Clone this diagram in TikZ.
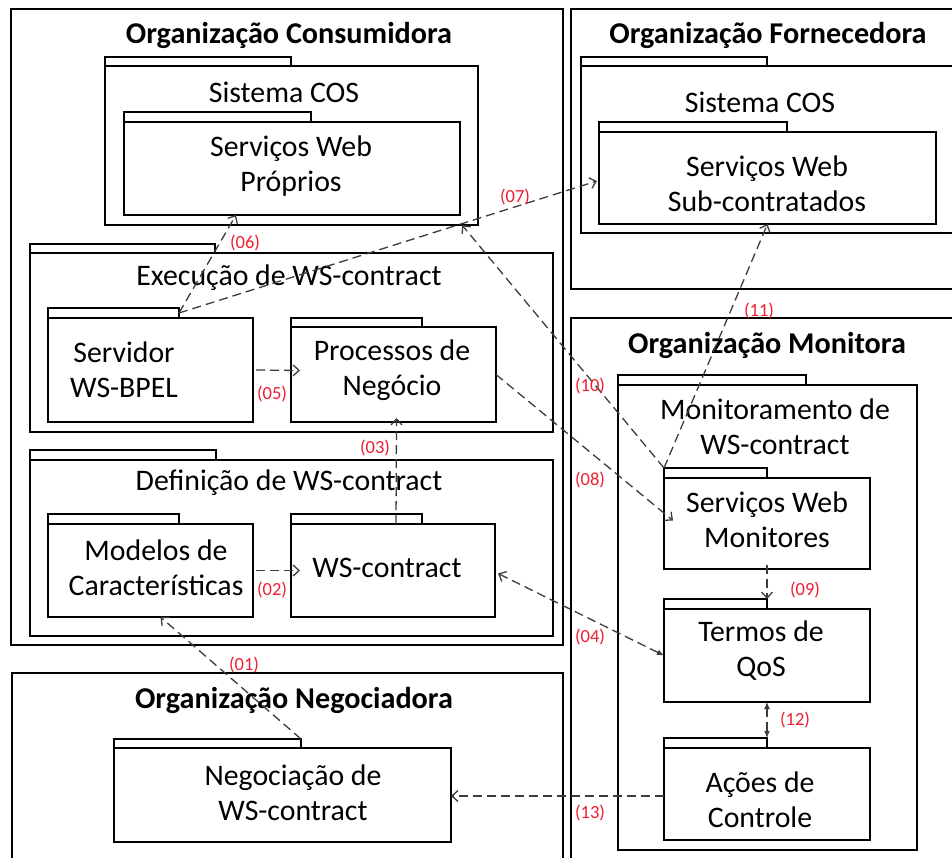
\documentclass[tikz,border=0pt]{standalone}
\usepackage{fontspec}
\setmainfont{Carlito}
\usetikzlibrary{arrows.meta}
\definecolor{lblred}{RGB}{240,30,50}
\definecolor{conngray}{RGB}{60,60,60}
\tikzset{
  box/.style={draw, line width=2.9pt, inner sep=0pt, outer sep=0pt},
  txt/.style={font=\fontsize{29.8}{35}\selectfont, align=center, inner sep=0pt},
  ttl/.style={font=\fontsize{30.2}{35}\bfseries\selectfont, inner sep=0pt},
  lbl/.style={font=\fontsize{18.5}{20}\selectfont, text=lblred, inner sep=0pt},
  conn/.style={draw=conngray, line width=1.3pt, dash pattern=on 9pt off 5pt},
  barb/.style={-{Straight Barb[length=6pt,width=11pt,line width=1.3pt]}},
}
% name, x1, tab right, tab top, body top, x2, bottom
\newcommand{\pkgbox}[7]{%
  \node[box, anchor=north west, minimum width={(#6-#2)*1pt}, minimum height={(#7-#5)*1pt}] (#1) at (#2,#5) {};
  \node[box, anchor=south west, minimum width={(#3-#2)*1pt}, minimum height={(#5-#4)*1pt}] (#1-tab) at (#2,#5) {};
}
\newcommand{\orgbox}[5]{%
  \node[box, anchor=north west, minimum width={(#4-#2)*1pt}, minimum height={(#5-#3)*1pt}] (#1) at (#2,#3) {};
}
\begin{document}
\begin{tikzpicture}[x=1pt, y=-1pt]
\clip (0,0) rectangle (952,858);
\fill[white] (0,0) rectangle (952,858);

% organisations
\orgbox{cons}{11}{9}{563}{645}
\orgbox{forn}{571}{9}{965}{289}
\orgbox{moni}{571}{318}{965}{875}
\orgbox{nego}{12}{673}{563}{875}
\node[ttl] (cons-t) at (289,35) {Organização Consumidora};
\node[ttl] (forn-t) at (768,35) {Organização Fornecedora};
\node[ttl] (moni-t) at (767,345) {Organização Monitora};
\node[ttl] (nego-t) at (294,700) {Organização Negociadora};

% packages
\pkgbox{sisc}{105}{291}{57}{66}{478}{225}
\pkgbox{swp}{124}{311}{112}{122}{460}{215}
\pkgbox{exec}{30}{215}{244}{253}{553}{432}
\pkgbox{srv}{48}{179}{308}{318}{253}{422}
\pkgbox{proc}{291}{422}{318}{327}{496}{422}
\pkgbox{def}{30}{216}{450}{460}{553}{636}
\pkgbox{mod}{48}{179}{514}{524}{253}{617}
\pkgbox{wsc}{291}{422}{514}{524}{495}{617}
\pkgbox{sisf}{581}{767}{57}{66}{965}{233}
\pkgbox{sws}{599}{787}{122}{132}{936}{224}
\pkgbox{mon}{618}{806}{375}{385}{917}{850}
\pkgbox{swm}{664}{767}{468}{478}{870}{569}
\pkgbox{termos}{664}{767}{599}{609}{870}{702}
\pkgbox{acoes}{664}{767}{738}{748}{870}{840}
\pkgbox{neg}{114}{301}{739}{748}{451}{842}

% package texts
\node[txt] (sisc-t) at (284,92) {Sistema COS};
\node[txt] (sisf-t) at (760,102) {Sistema COS};
\node[txt] (exec-t) at (289,278) {Execução de WS-contract};
\node[txt] (def-t) at (289,483) {Definição de WS-contract};
\node[txt] (mon-t) at (775,427) {Monitoramento de\\WS-contract};
\node[txt] (swp-t) at (291,166) {Serviços Web\\Próprios};
\node[txt] (srv-t) at (124,370) {Servidor\\WS-BPEL};
\node[txt] (proc-t) at (392,370) {Processos de\\Negócio};
\node[txt] (mod-t) at (156,568) {Modelos de\\Características};
\node[txt] (wsc-t) at (387,568) {WS-contract};
\node[txt] (sws-t) at (767,184) {Serviços Web\\Sub-contratados};
\node[txt] (swm-t) at (767,520) {Serviços Web\\Monitores};
\node[txt] (termos-t) at (761,651) {Termos de\\QoS};
\node[txt] (acoes-t) at (760,800) {Ações de\\Controle};
\node[txt] (neg-t) at (293,793) {Negociação de\\WS-contract};

% connectors
\draw[conn, barb] (neg-tab.north east) -- ([xshift=10pt]mod.south);
\draw[conn, barb] ([xshift=3pt]mod.east) -- ([xshift=9pt]wsc.west);
\draw[conn, barb] ([xshift=3pt]wsc.north) -- ([xshift=3pt,yshift=4pt]proc.south);
\draw[conn, {Straight Barb[length=6pt,width=11pt,line width=1.3pt]}-{Latex[length=7pt,width=6pt]}] ([xshift=3pt,yshift=-3pt]wsc.east) -- (termos.west);
\draw[conn, barb] ([xshift=3pt]srv.east) -- ([xshift=9pt,yshift=4pt]proc.west);
\draw[conn, barb] (srv-tab.east) -- ([xshift=112pt]swp.south west);
\draw[conn, barb] (srv-tab.east) -- ([xshift=-2pt,yshift=-3pt]sws.west);
\draw[conn, barb] (proc.east) -- ([xshift=9pt,yshift=3pt]swm.west);
\draw[conn, barb] ([yshift=4pt]swm.south) -- (termos-tab.north east);
\draw[conn, barb] (swm-tab.north west) -- ([xshift=-16pt]sisc.south east);
\draw[conn, barb] (swm-tab.north west) -- (sws.south);
\draw[conn, {Latex[length=7pt,width=6pt]}-{Latex[length=7pt,width=6pt]}] (termos.south) -- (acoes-tab.north east);
\draw[conn, barb] ([yshift=-2pt]acoes.west) -- ([yshift=-1pt]neg.east);

% labels
\node[lbl] (l01) at (244,665) {(01)};
\node[lbl] (l02) at (272,590) {(02)};
\node[lbl] (l03) at (375,448) {(03)};
\node[lbl] (l04) at (590,637) {(04)};
\node[lbl] (l05) at (272,394) {(05)};
\node[lbl] (l06) at (245,243) {(06)};
\node[lbl] (l07) at (515,197) {(07)};
\node[lbl] (l08) at (590,480) {(08)};
\node[lbl] (l09) at (805,590) {(09)};
\node[lbl] (l10) at (590,386) {(10)};
\node[lbl] (l11) at (759,311) {(11)};
\node[lbl] (l12) at (795,720) {(12)};
\node[lbl] (l13) at (590,813) {(13)};
\end{tikzpicture}
\end{document}
